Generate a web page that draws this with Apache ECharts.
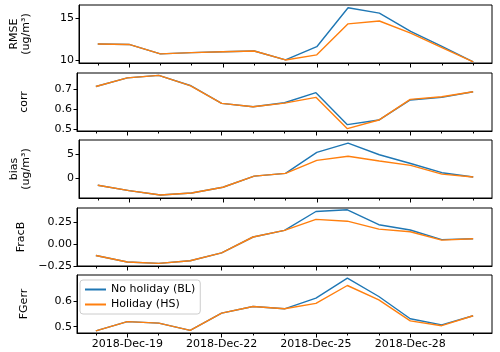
<!DOCTYPE html>
<html>
<head>
<meta charset="utf-8">
<script src="https://cdn.jsdelivr.net/npm/echarts@6/dist/echarts.min.js"></script>
<style>
  html, body { margin: 0; padding: 0; background: #fff; }
  #chart { width: 500px; height: 352px; }
</style>
</head>
<body>
<div id="chart"></div>
<script>
// days on the x axis (index 0 = 2018-Dec-18)
const days = ["2018-Dec-18", "2018-Dec-19", "2018-Dec-20", "2018-Dec-21", "2018-Dec-22", "2018-Dec-23",
  "2018-Dec-24", "2018-Dec-25", "2018-Dec-26", "2018-Dec-27", "2018-Dec-28", "2018-Dec-29", "2018-Dec-30"];
const labelledDays = [1, 4, 7, 10];

const seriesNames = ["No holiday (BL)", "Holiday (HS)"];

const rmseBL = [11.92, 11.87, 10.76, 10.9, 11.0, 11.1, 10.04, 11.6, 16.2, 15.56, 13.4, 11.63, 9.8];
const rmseHS = [11.92, 11.87, 10.76, 10.9, 11.0, 11.1, 10.04, 10.64, 14.3, 14.63, 13.2, 11.5, 9.8];

const corrBL = [0.713, 0.756, 0.768, 0.718, 0.629, 0.612, 0.632, 0.682, 0.523, 0.546, 0.646, 0.659, 0.687];
const corrHS = [0.713, 0.756, 0.768, 0.717, 0.629, 0.612, 0.630, 0.659, 0.503, 0.546, 0.649, 0.662, 0.687];

const biasBL = [-1.5, -2.6, -3.5, -3.1, -1.9, 0.4, 0.95, 5.3, 7.2, 4.8, 3.0, 1.1, 0.2];
const biasHS = [-1.5, -2.6, -3.5, -3.1, -1.9, 0.4, 0.95, 3.65, 4.5, 3.5, 2.6, 0.8, 0.2];

const fracbBL = [-0.13, -0.205, -0.22, -0.19, -0.1, 0.08, 0.156, 0.37, 0.39, 0.22, 0.16, 0.05, 0.06];
const fracbHS = [-0.13, -0.205, -0.22, -0.19, -0.1, 0.08, 0.156, 0.28, 0.26, 0.17, 0.14, 0.045, 0.06];

const fgerrBL = [0.484, 0.52, 0.514, 0.486, 0.553, 0.579, 0.57, 0.612, 0.69, 0.618, 0.531, 0.507, 0.543];
const fgerrHS = [0.484, 0.52, 0.514, 0.486, 0.553, 0.579, 0.57, 0.591, 0.661, 0.605, 0.523, 0.504, 0.543];

// one entry per panel, top to bottom
const panelNames = ["RMSE\n(ug/m³)", "corr", "bias\n(ug/m³)", "FracB", "FGerr"];
const panelTicks = [[10, 15], [0.5, 0.6, 0.7], [0, 5], [-0.25, 0, 0.25], [0.5, 0.6]];
const panelDecimals = [0, 1, 0, 2, 1];
const panelRange = [[9.68, 16.52], [0.4915, 0.78], [-4.12, 7.84], [-0.25, 0.41], [0.4755, 0.702]];
const panelData = [[rmseBL, rmseHS], [corrBL, corrHS], [biasBL, biasHS], [fracbBL, fracbHS], [fgerrBL, fgerrHS]];

const colors = ["#1f77b4", "#ff7f0e"];
const font = "DejaVu Sans";
const tops = [5, 73, 140, 208, 275];
const panelHeight = 58;

const chart = echarts.init(document.getElementById("chart"), null, { renderer: "canvas" });

const grids = [];
const xAxes = [];
const yAxes = [];
const series = [];
const allDays = days.map((d, i) => i);

panelNames.forEach((name, p) => {
  grids.push({
    left: 77, right: 8, top: tops[p], height: panelHeight,
    show: true, borderColor: "#000", borderWidth: 1, backgroundColor: "transparent"
  });
  const last = p === panelNames.length - 1;
  xAxes.push({
    type: "value", gridIndex: p, min: -0.6, max: 12.6,
    axisLine: { show: true, onZero: false, lineStyle: { color: "#000", width: 1 } },
    axisTick: { show: true, customValues: allDays, length: 2.5, lineStyle: { color: "#000" } },
    axisLabel: {
      show: last, customValues: labelledDays, color: "#000", fontFamily: font, fontSize: 11, margin: 6,
      formatter: (v) => days[Math.round(v)]
    },
    splitLine: { show: false }
  });
  yAxes.push({
    type: "value", gridIndex: p, min: panelRange[p][0], max: panelRange[p][1],
    name: name, nameLocation: "middle", nameRotate: 90, nameGap: 47,
    nameTextStyle: { color: "#000", fontFamily: font, fontSize: 11, lineHeight: 12 },
    axisLine: { show: true, onZero: false, lineStyle: { color: "#000", width: 1 } },
    axisTick: { show: true, customValues: panelTicks[p], length: 3.5, lineStyle: { color: "#000" } },
    axisLabel: {
      customValues: panelTicks[p], color: "#000", fontFamily: font, fontSize: 11, margin: 5,
      formatter: (v) => v.toFixed(panelDecimals[p]).replace("-", "\u2212")
    },
    splitLine: { show: false }
  });
  panelData[p].forEach((vals, s) => {
    series.push({
      name: seriesNames[s], type: "line", xAxisIndex: p, yAxisIndex: p,
      data: vals.map((v, i) => [i, v]),
      showSymbol: false, symbol: "none",
      lineStyle: { color: colors[s], width: 1.4 },
      itemStyle: { color: colors[s] },
      emphasis: { disabled: true }
    });
  });
});

// longer ticks at the labelled days
panelNames.forEach((name, p) => {
  xAxes.push({
    type: "value", gridIndex: p, min: -0.6, max: 12.6, position: "bottom",
    axisLine: { show: false, onZero: false },
    axisTick: { show: true, customValues: labelledDays, length: 4.5, lineStyle: { color: "#000" } },
    axisLabel: { show: false },
    splitLine: { show: false }
  });
});

const option = {
  animation: false,
  backgroundColor: "#fff",
  grid: grids,
  xAxis: xAxes,
  yAxis: yAxes,
  legend: {
    data: seriesNames.map((n, i) => ({ name: n, itemStyle: { color: colors[i] } })),
    orient: "vertical", left: 80, top: 280,
    icon: "rect", itemWidth: 21, itemHeight: 2, itemGap: 4,
    padding: [4, 5, 4, 5],
    backgroundColor: "rgba(255,255,255,0.8)", borderColor: "#cccccc", borderWidth: 1, borderRadius: 3,
    textStyle: { color: "#000", fontFamily: font, fontSize: 11 }
  },
  series: series
};

chart.setOption(option);
</script>
</body>
</html>
